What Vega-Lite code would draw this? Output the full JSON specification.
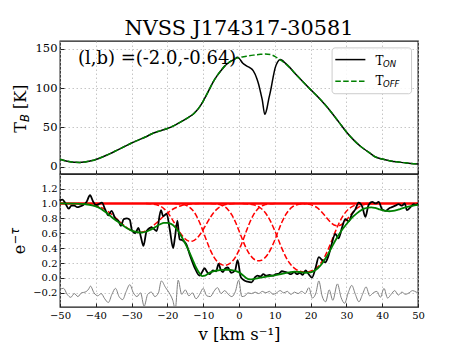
{
"$schema": "https://vega.github.io/schema/vega-lite/v6.json",
"background": "white",
"padding": {"left": 9, "top": 17, "right": 5, "bottom": 5},
"spacing": 0,
"bounds": "flush",
"config": {
  "font": "DejaVu Serif",
  "view": {"stroke": "#1a1a1a", "strokeWidth": 1.3},
  "axis": {"domain": false, "grid": true, "gridColor": "#b8b8b8", "gridDash": [1.5, 2.5], "gridWidth": 0.8, "tickColor": "#222222", "tickSize": -4, "tickCount": 30, "labelPadding": 7, "labelColor": "black", "labelFont": "DejaVu Serif", "labelOverlap": false, "labelFlush": false, "labelBound": false, "title": null}
},
"datasets": {
  "tb": [
    {"v":-50,"s":"off","T":9.3},{"v":-48,"s":"off","T":6.8},{"v":-46,"s":"off","T":5.4},{"v":-44.5,"s":"off","T":5.2},{"v":-43,"s":"off","T":5.9},{"v":-41,"s":"off","T":7.6},{"v":-40,"s":"off","T":9},{"v":-38,"s":"off","T":12.5},{"v":-36,"s":"off","T":16.5},{"v":-34,"s":"off","T":21},{"v":-32,"s":"off","T":25.5},{"v":-30,"s":"off","T":30},{"v":-28,"s":"off","T":34},{"v":-26,"s":"off","T":38},{"v":-24,"s":"off","T":42.5},{"v":-22,"s":"off","T":45.5},{"v":-20,"s":"off","T":48.5},{"v":-18,"s":"off","T":52.5},{"v":-16,"s":"off","T":57.5},{"v":-14,"s":"off","T":63},{"v":-13,"s":"off","T":66},{"v":-12,"s":"off","T":70.5},{"v":-11,"s":"off","T":76},{"v":-10,"s":"off","T":83.5},{"v":-9,"s":"off","T":92},{"v":-8,"s":"off","T":101},{"v":-7,"s":"off","T":109.5},{"v":-6,"s":"off","T":116.5},{"v":-5,"s":"off","T":122.5},{"v":-4,"s":"off","T":128},{"v":-3,"s":"off","T":132},{"v":-2,"s":"off","T":135},{"v":-1,"s":"off","T":137.5},{"v":0,"s":"off","T":139},{"v":2,"s":"off","T":140.5},{"v":4,"s":"off","T":142},{"v":6,"s":"off","T":143},{"v":7.3,"s":"off","T":143.5},{"v":9,"s":"off","T":142.5},{"v":10,"s":"off","T":140.5},{"v":11,"s":"off","T":137.5},{"v":12,"s":"off","T":134.5},{"v":13,"s":"off","T":131},{"v":14,"s":"off","T":127},{"v":16,"s":"off","T":117},{"v":18,"s":"off","T":107.5},{"v":20,"s":"off","T":98},{"v":22,"s":"off","T":89},{"v":24,"s":"off","T":79},{"v":26,"s":"off","T":68},{"v":28,"s":"off","T":56},{"v":30,"s":"off","T":44},{"v":32,"s":"off","T":34},{"v":34,"s":"off","T":25.5},{"v":36,"s":"off","T":19},{"v":38,"s":"off","T":12.5},{"v":40,"s":"off","T":9.5},{"v":42,"s":"off","T":7.5},{"v":44,"s":"off","T":6},{"v":46,"s":"off","T":5},{"v":48,"s":"off","T":4},{"v":50,"s":"off","T":3.3},
    {"v":-50,"s":"on","T":9.3},{"v":-48,"s":"on","T":6.8},{"v":-46,"s":"on","T":5.4},{"v":-44.5,"s":"on","T":5.2},{"v":-43,"s":"on","T":5.9},{"v":-41,"s":"on","T":7.6},{"v":-40,"s":"on","T":9},{"v":-38,"s":"on","T":12.5},{"v":-36,"s":"on","T":16.5},{"v":-34,"s":"on","T":21},{"v":-32,"s":"on","T":25.5},{"v":-30,"s":"on","T":30},{"v":-28,"s":"on","T":34},{"v":-26,"s":"on","T":38},{"v":-24,"s":"on","T":42.5},{"v":-22,"s":"on","T":45.5},{"v":-20,"s":"on","T":48.5},{"v":-18,"s":"on","T":52.5},{"v":-16,"s":"on","T":57.5},{"v":-14,"s":"on","T":63},{"v":-13,"s":"on","T":66},{"v":-12,"s":"on","T":70.5},{"v":-11,"s":"on","T":76},{"v":-10,"s":"on","T":83.5},{"v":-9,"s":"on","T":92},{"v":-8,"s":"on","T":101},{"v":-7,"s":"on","T":109.5},{"v":-6,"s":"on","T":116.5},{"v":-5,"s":"on","T":122.5},{"v":-4,"s":"on","T":128},{"v":-3,"s":"on","T":132},{"v":-2,"s":"on","T":135},{"v":-1,"s":"on","T":137.5},{"v":-0.5,"s":"on","T":139.3},{"v":0,"s":"on","T":138},{"v":1,"s":"on","T":132},{"v":2,"s":"on","T":128.5},{"v":3,"s":"on","T":126},{"v":4,"s":"on","T":122},{"v":5,"s":"on","T":112},{"v":5.5,"s":"on","T":104.6},{"v":6,"s":"on","T":95},{"v":6.5,"s":"on","T":85},{"v":7.2,"s":"on","T":66.5},{"v":7.8,"s":"on","T":74},{"v":8.3,"s":"on","T":86},{"v":8.8,"s":"on","T":96},{"v":9.5,"s":"on","T":113},{"v":10.1,"s":"on","T":125.8},{"v":10.8,"s":"on","T":133.5},{"v":11.5,"s":"on","T":136.3},{"v":12,"s":"on","T":135.5},{"v":13,"s":"on","T":131.5},{"v":14,"s":"on","T":127},{"v":16,"s":"on","T":117},{"v":18,"s":"on","T":107.5},{"v":20,"s":"on","T":98},{"v":22,"s":"on","T":89},{"v":24,"s":"on","T":79},{"v":26,"s":"on","T":68},{"v":28,"s":"on","T":56},{"v":30,"s":"on","T":44},{"v":32,"s":"on","T":34},{"v":34,"s":"on","T":25.5},{"v":36,"s":"on","T":19},{"v":38,"s":"on","T":12.5},{"v":40,"s":"on","T":9.5},{"v":42,"s":"on","T":7.5},{"v":44,"s":"on","T":6},{"v":46,"s":"on","T":5},{"v":48,"s":"on","T":4},{"v":50,"s":"on","T":3.3}
  ],
  "abs": [
    {"v":-50.1,"s":"obs","y":1.04},{"v":-49.3,"s":"obs","y":1.05},{"v":-48.5,"s":"obs","y":1.0},{"v":-47.6,"s":"obs","y":0.93},{"v":-46.8,"s":"obs","y":0.97},{"v":-46.0,"s":"obs","y":0.97},{"v":-45.2,"s":"obs","y":0.95},{"v":-44.4,"s":"obs","y":0.96},{"v":-43.5,"s":"obs","y":0.98},{"v":-42.6,"s":"obs","y":1.02},{"v":-41.6,"s":"obs","y":1.11},{"v":-40.8,"s":"obs","y":1.03},{"v":-40.0,"s":"obs","y":0.98},{"v":-39.2,"s":"obs","y":0.99},{"v":-38.3,"s":"obs","y":1.01},{"v":-37.4,"s":"obs","y":0.92},{"v":-36.5,"s":"obs","y":0.84},{"v":-35.6,"s":"obs","y":0.9},{"v":-34.6,"s":"obs","y":0.8},{"v":-33.6,"s":"obs","y":0.76},{"v":-33.0,"s":"obs","y":0.7},{"v":-32.2,"s":"obs","y":0.79},{"v":-31.3,"s":"obs","y":0.8},{"v":-30.5,"s":"obs","y":0.78},{"v":-29.9,"s":"obs","y":0.64},{"v":-29.0,"s":"obs","y":0.6},{"v":-28.1,"s":"obs","y":0.67},{"v":-27.4,"s":"obs","y":0.55},{"v":-26.7,"s":"obs","y":0.43},{"v":-25.8,"s":"obs","y":0.63},{"v":-24.4,"s":"obs","y":0.68},{"v":-23.0,"s":"obs","y":0.63},{"v":-21.8,"s":"obs","y":0.91},{"v":-21.2,"s":"obs","y":0.83},{"v":-20.2,"s":"obs","y":0.86},{"v":-19.3,"s":"obs","y":0.64},{"v":-18.4,"s":"obs","y":0.4},{"v":-17.9,"s":"obs","y":0.54},{"v":-17.2,"s":"obs","y":0.77},{"v":-16.6,"s":"obs","y":0.52},{"v":-15.6,"s":"obs","y":0.5},{"v":-14.7,"s":"obs","y":0.45},{"v":-13.8,"s":"obs","y":0.32},{"v":-12.4,"s":"obs","y":0.14},{"v":-11.0,"s":"obs","y":0.03},{"v":-10.3,"s":"obs","y":0.08},{"v":-9.6,"s":"obs","y":0.13},{"v":-8.9,"s":"obs","y":0.08},{"v":-8.2,"s":"obs","y":0.05},{"v":-7.3,"s":"obs","y":0.1},{"v":-6.4,"s":"obs","y":0.09},{"v":-5.7,"s":"obs","y":0.19},{"v":-5.1,"s":"obs","y":0.11},{"v":-4.5,"s":"obs","y":0.08},{"v":-3.8,"s":"obs","y":0.13},{"v":-3.1,"s":"obs","y":0.14},{"v":-2.2,"s":"obs","y":0.07},{"v":-1.1,"s":"obs","y":0.1},{"v":-0.4,"s":"obs","y":0.24},{"v":0.5,"s":"obs","y":0.01},{"v":1.4,"s":"obs","y":-0.03},{"v":2.4,"s":"obs","y":-0.05},{"v":3.5,"s":"obs","y":-0.06},{"v":4.5,"s":"obs","y":0.01},{"v":5.2,"s":"obs","y":0.03},{"v":6.0,"s":"obs","y":0.02},{"v":6.8,"s":"obs","y":0.05},{"v":7.6,"s":"obs","y":0.03},{"v":8.5,"s":"obs","y":0.04},{"v":9.4,"s":"obs","y":0.03},{"v":10.3,"s":"obs","y":0.05},{"v":11.2,"s":"obs","y":0.06},{"v":12.0,"s":"obs","y":0.09},{"v":12.8,"s":"obs","y":0.08},{"v":13.6,"s":"obs","y":0.07},{"v":14.5,"s":"obs","y":0.05},{"v":15.4,"s":"obs","y":0.08},{"v":16.2,"s":"obs","y":0.05},{"v":17.0,"s":"obs","y":0.07},{"v":17.8,"s":"obs","y":0.04},{"v":18.6,"s":"obs","y":0.1},{"v":19.3,"s":"obs","y":0.06},{"v":20.4,"s":"obs","y":0.005},{"v":21.3,"s":"obs","y":0.12},{"v":22.3,"s":"obs","y":0.28},{"v":23.2,"s":"obs","y":0.24},{"v":24.1,"s":"obs","y":0.21},{"v":25.0,"s":"obs","y":0.3},{"v":25.7,"s":"obs","y":0.42},{"v":26.9,"s":"obs","y":0.59},{"v":27.8,"s":"obs","y":0.53},{"v":28.8,"s":"obs","y":0.68},{"v":29.7,"s":"obs","y":0.79},{"v":30.6,"s":"obs","y":0.76},{"v":31.6,"s":"obs","y":0.86},{"v":32.5,"s":"obs","y":0.92},{"v":33.4,"s":"obs","y":1.01},{"v":34.4,"s":"obs","y":0.96},{"v":35.3,"s":"obs","y":0.82},{"v":36.2,"s":"obs","y":0.98},{"v":37.2,"s":"obs","y":1.02},{"v":38.2,"s":"obs","y":1.0},{"v":39.0,"s":"obs","y":1.02},{"v":40.0,"s":"obs","y":0.92},{"v":41.0,"s":"obs","y":0.9},{"v":41.8,"s":"obs","y":0.93},{"v":42.7,"s":"obs","y":0.95},{"v":43.7,"s":"obs","y":0.97},{"v":44.6,"s":"obs","y":0.99},{"v":45.5,"s":"obs","y":0.97},{"v":46.3,"s":"obs","y":1.0},{"v":46.9,"s":"obs","y":0.91},{"v":47.9,"s":"obs","y":0.95},{"v":48.8,"s":"obs","y":0.99},{"v":49.5,"s":"obs","y":0.98},{"v":50.0,"s":"obs","y":1.0},
    {"v":-50,"s":"fit","y":1.0},{"v":-46,"s":"fit","y":0.998},{"v":-43,"s":"fit","y":0.99},{"v":-41,"s":"fit","y":0.975},{"v":-40,"s":"fit","y":0.96},{"v":-39,"s":"fit","y":0.94},{"v":-38,"s":"fit","y":0.91},{"v":-37,"s":"fit","y":0.875},{"v":-36,"s":"fit","y":0.835},{"v":-35,"s":"fit","y":0.795},{"v":-34,"s":"fit","y":0.76},{"v":-33,"s":"fit","y":0.725},{"v":-32,"s":"fit","y":0.69},{"v":-31,"s":"fit","y":0.66},{"v":-30,"s":"fit","y":0.635},{"v":-29,"s":"fit","y":0.62},{"v":-28,"s":"fit","y":0.61},{"v":-27,"s":"fit","y":0.61},{"v":-26,"s":"fit","y":0.62},{"v":-25,"s":"fit","y":0.64},{"v":-24,"s":"fit","y":0.665},{"v":-23,"s":"fit","y":0.695},{"v":-22,"s":"fit","y":0.72},{"v":-21,"s":"fit","y":0.74},{"v":-20,"s":"fit","y":0.74},{"v":-19,"s":"fit","y":0.725},{"v":-18,"s":"fit","y":0.69},{"v":-17,"s":"fit","y":0.63},{"v":-16,"s":"fit","y":0.55},{"v":-15,"s":"fit","y":0.46},{"v":-14,"s":"fit","y":0.36},{"v":-13,"s":"fit","y":0.25},{"v":-12,"s":"fit","y":0.14},{"v":-11,"s":"fit","y":0.06},{"v":-10.3,"s":"fit","y":0.025},{"v":-9.5,"s":"fit","y":0.03},{"v":-9,"s":"fit","y":0.045},{"v":-8,"s":"fit","y":0.075},{"v":-7,"s":"fit","y":0.09},{"v":-6,"s":"fit","y":0.1},{"v":-5,"s":"fit","y":0.105},{"v":-4,"s":"fit","y":0.11},{"v":-3,"s":"fit","y":0.11},{"v":-2,"s":"fit","y":0.105},{"v":-1,"s":"fit","y":0.095},{"v":0,"s":"fit","y":0.075},{"v":1,"s":"fit","y":0.04},{"v":2,"s":"fit","y":0.0},{"v":3,"s":"fit","y":-0.02},{"v":4,"s":"fit","y":-0.015},{"v":5,"s":"fit","y":-0.005},{"v":6,"s":"fit","y":0.005},{"v":8,"s":"fit","y":0.02},{"v":10,"s":"fit","y":0.035},{"v":12,"s":"fit","y":0.055},{"v":14,"s":"fit","y":0.075},{"v":15.5,"s":"fit","y":0.085},{"v":17,"s":"fit","y":0.08},{"v":18.5,"s":"fit","y":0.07},{"v":20,"s":"fit","y":0.075},{"v":21,"s":"fit","y":0.095},{"v":22,"s":"fit","y":0.13},{"v":23,"s":"fit","y":0.18},{"v":24,"s":"fit","y":0.25},{"v":25,"s":"fit","y":0.33},{"v":26,"s":"fit","y":0.42},{"v":27,"s":"fit","y":0.51},{"v":28,"s":"fit","y":0.59},{"v":29,"s":"fit","y":0.66},{"v":30,"s":"fit","y":0.72},{"v":31,"s":"fit","y":0.78},{"v":32,"s":"fit","y":0.83},{"v":33,"s":"fit","y":0.87},{"v":34,"s":"fit","y":0.905},{"v":35,"s":"fit","y":0.93},{"v":36,"s":"fit","y":0.945},{"v":37,"s":"fit","y":0.948},{"v":38,"s":"fit","y":0.94},{"v":39,"s":"fit","y":0.925},{"v":40,"s":"fit","y":0.91},{"v":41,"s":"fit","y":0.9},{"v":42,"s":"fit","y":0.895},{"v":43,"s":"fit","y":0.9},{"v":44,"s":"fit","y":0.91},{"v":45,"s":"fit","y":0.925},{"v":46,"s":"fit","y":0.94},{"v":47,"s":"fit","y":0.955},{"v":48,"s":"fit","y":0.965},{"v":49,"s":"fit","y":0.975},{"v":50,"s":"fit","y":0.98},
    {"v":-50,"s":"res","y":-0.15},{"v":-49,"s":"res","y":-0.14},{"v":-48,"s":"res","y":-0.22},{"v":-47,"s":"res","y":-0.26},{"v":-46,"s":"res","y":-0.21},{"v":-45,"s":"res","y":-0.25},{"v":-44,"s":"res","y":-0.2},{"v":-43,"s":"res","y":-0.19},{"v":-42,"s":"res","y":-0.15},{"v":-41.5,"s":"res","y":-0.11},{"v":-40.5,"s":"res","y":-0.2},{"v":-39.5,"s":"res","y":-0.24},{"v":-38.5,"s":"res","y":-0.21},{"v":-37.5,"s":"res","y":-0.28},{"v":-36.5,"s":"res","y":-0.33},{"v":-35.5,"s":"res","y":-0.22},{"v":-34.5,"s":"res","y":-0.14},{"v":-33.5,"s":"res","y":-0.25},{"v":-32.5,"s":"res","y":-0.29},{"v":-31.5,"s":"res","y":-0.18},{"v":-30.5,"s":"res","y":-0.09},{"v":-29.5,"s":"res","y":-0.2},{"v":-28.5,"s":"res","y":-0.25},{"v":-27.5,"s":"res","y":-0.2},{"v":-26.5,"s":"res","y":-0.38},{"v":-25.5,"s":"res","y":-0.22},{"v":-24.5,"s":"res","y":-0.19},{"v":-23.5,"s":"res","y":-0.25},{"v":-22.5,"s":"res","y":-0.2},{"v":-21.7,"s":"res","y":-0.04},{"v":-20.5,"s":"res","y":-0.13},{"v":-19.5,"s":"res","y":-0.2},{"v":-18.5,"s":"res","y":-0.3},{"v":-17.8,"s":"res","y":-0.42},{"v":-17,"s":"res","y":-0.03},{"v":-16,"s":"res","y":-0.22},{"v":-15,"s":"res","y":-0.16},{"v":-14,"s":"res","y":-0.24},{"v":-13,"s":"res","y":-0.2},{"v":-12,"s":"res","y":-0.28},{"v":-11,"s":"res","y":-0.22},{"v":-10,"s":"res","y":-0.14},{"v":-9,"s":"res","y":-0.24},{"v":-8,"s":"res","y":-0.25},{"v":-7,"s":"res","y":-0.18},{"v":-6,"s":"res","y":-0.13},{"v":-5,"s":"res","y":-0.21},{"v":-4,"s":"res","y":-0.17},{"v":-3,"s":"res","y":-0.22},{"v":-2,"s":"res","y":-0.25},{"v":-1,"s":"res","y":-0.18},{"v":-0.1,"s":"res","y":-0.03},{"v":0.8,"s":"res","y":-0.25},{"v":1.7,"s":"res","y":-0.24},{"v":2.5,"s":"res","y":-0.2},{"v":3.5,"s":"res","y":-0.21},{"v":4.5,"s":"res","y":-0.19},{"v":5.5,"s":"res","y":-0.21},{"v":6.5,"s":"res","y":-0.18},{"v":7.5,"s":"res","y":-0.2},{"v":8.5,"s":"res","y":-0.18},{"v":9.5,"s":"res","y":-0.22},{"v":10.5,"s":"res","y":-0.2},{"v":11.5,"s":"res","y":-0.17},{"v":12.5,"s":"res","y":-0.2},{"v":13.5,"s":"res","y":-0.18},{"v":14.5,"s":"res","y":-0.22},{"v":15.5,"s":"res","y":-0.19},{"v":16.5,"s":"res","y":-0.21},{"v":17.5,"s":"res","y":-0.18},{"v":18.5,"s":"res","y":-0.21},{"v":19.5,"s":"res","y":-0.13},{"v":20.5,"s":"res","y":-0.27},{"v":21.5,"s":"res","y":-0.2},{"v":22.3,"s":"res","y":-0.04},{"v":23.2,"s":"res","y":-0.24},{"v":24.2,"s":"res","y":-0.32},{"v":25.2,"s":"res","y":-0.16},{"v":26.2,"s":"res","y":-0.3},{"v":27.5,"s":"res","y":-0.08},{"v":28.5,"s":"res","y":-0.26},{"v":29.5,"s":"res","y":-0.34},{"v":30.5,"s":"res","y":-0.2},{"v":31.5,"s":"res","y":-0.1},{"v":32.5,"s":"res","y":-0.22},{"v":33.5,"s":"res","y":-0.32},{"v":34.5,"s":"res","y":-0.22},{"v":35.5,"s":"res","y":-0.12},{"v":36.5,"s":"res","y":-0.24},{"v":37.5,"s":"res","y":-0.2},{"v":38.5,"s":"res","y":-0.18},{"v":39.5,"s":"res","y":-0.26},{"v":40.5,"s":"res","y":-0.14},{"v":41.5,"s":"res","y":-0.27},{"v":42.5,"s":"res","y":-0.22},{"v":43.5,"s":"res","y":-0.17},{"v":44.5,"s":"res","y":-0.23},{"v":45.5,"s":"res","y":-0.19},{"v":46.5,"s":"res","y":-0.22},{"v":47.5,"s":"res","y":-0.2},{"v":48.5,"s":"res","y":-0.17},{"v":49.5,"s":"res","y":-0.19},{"v":50,"s":"res","y":-0.2}
  ],
  "comp": [
    {"v":-45,"c":"a","y":1.0},{"v":-43,"c":"a","y":0.995},{"v":-42,"c":"a","y":0.99},{"v":-41,"c":"a","y":0.983},{"v":-40,"c":"a","y":0.973},{"v":-39,"c":"a","y":0.957},{"v":-38,"c":"a","y":0.935},{"v":-37,"c":"a","y":0.907},{"v":-36,"c":"a","y":0.872},{"v":-35,"c":"a","y":0.831},{"v":-34,"c":"a","y":0.786},{"v":-33,"c":"a","y":0.741},{"v":-32,"c":"a","y":0.699},{"v":-31,"c":"a","y":0.662},{"v":-30,"c":"a","y":0.634},{"v":-29,"c":"a","y":0.616},{"v":-28,"c":"a","y":0.61},{"v":-27,"c":"a","y":0.616},{"v":-26,"c":"a","y":0.634},{"v":-25,"c":"a","y":0.662},{"v":-24,"c":"a","y":0.699},{"v":-23,"c":"a","y":0.741},{"v":-22,"c":"a","y":0.786},{"v":-21,"c":"a","y":0.831},{"v":-20,"c":"a","y":0.872},{"v":-19,"c":"a","y":0.907},{"v":-18,"c":"a","y":0.935},{"v":-17,"c":"a","y":0.957},{"v":-16,"c":"a","y":0.973},{"v":-15,"c":"a","y":0.983},{"v":-14,"c":"a","y":0.99},{"v":-13,"c":"a","y":0.995},{"v":-11,"c":"a","y":1.0},
    {"v":-26,"c":"b","y":1.0},{"v":-25,"c":"b","y":0.997},{"v":-24,"c":"b","y":0.992},{"v":-23,"c":"b","y":0.982},{"v":-22,"c":"b","y":0.963},{"v":-21,"c":"b","y":0.931},{"v":-20,"c":"b","y":0.881},{"v":-19,"c":"b","y":0.813},{"v":-18,"c":"b","y":0.732},{"v":-17,"c":"b","y":0.649},{"v":-16,"c":"b","y":0.576},{"v":-15,"c":"b","y":0.522},{"v":-14,"c":"b","y":0.494},{"v":-13.5,"c":"b","y":0.49},{"v":-13,"c":"b","y":0.494},{"v":-12,"c":"b","y":0.522},{"v":-11,"c":"b","y":0.576},{"v":-10,"c":"b","y":0.649},{"v":-9,"c":"b","y":0.732},{"v":-8,"c":"b","y":0.813},{"v":-7,"c":"b","y":0.881},{"v":-6,"c":"b","y":0.931},{"v":-5,"c":"b","y":0.963},{"v":-4,"c":"b","y":0.982},{"v":-3,"c":"b","y":0.992},{"v":-2,"c":"b","y":0.997},{"v":-1,"c":"b","y":1.0},
    {"v":-18,"c":"c","y":1.0},{"v":-17,"c":"c","y":0.996},{"v":-16,"c":"c","y":0.991},{"v":-15,"c":"c","y":0.979},{"v":-14,"c":"c","y":0.955},{"v":-13,"c":"c","y":0.912},{"v":-12,"c":"c","y":0.843},{"v":-11,"c":"c","y":0.744},{"v":-10,"c":"c","y":0.622},{"v":-9,"c":"c","y":0.492},{"v":-8,"c":"c","y":0.373},{"v":-7,"c":"c","y":0.28},{"v":-6,"c":"c","y":0.217},{"v":-5,"c":"c","y":0.182},{"v":-4,"c":"c","y":0.17},{"v":-3,"c":"c","y":0.182},{"v":-2,"c":"c","y":0.217},{"v":-1,"c":"c","y":0.28},{"v":0,"c":"c","y":0.373},{"v":1,"c":"c","y":0.492},{"v":2,"c":"c","y":0.622},{"v":3,"c":"c","y":0.744},{"v":4,"c":"c","y":0.843},{"v":5,"c":"c","y":0.912},{"v":6,"c":"c","y":0.955},{"v":7,"c":"c","y":0.979},{"v":8,"c":"c","y":0.991},{"v":9,"c":"c","y":0.996},{"v":10,"c":"c","y":1.0},
    {"v":-8,"c":"d","y":1.0},{"v":-7,"c":"d","y":0.996},{"v":-6,"c":"d","y":0.991},{"v":-5,"c":"d","y":0.979},{"v":-4,"c":"d","y":0.956},{"v":-3,"c":"d","y":0.913},{"v":-2,"c":"d","y":0.845},{"v":-1,"c":"d","y":0.75},{"v":0,"c":"d","y":0.633},{"v":1,"c":"d","y":0.51},{"v":2,"c":"d","y":0.4},{"v":3,"c":"d","y":0.315},{"v":4,"c":"d","y":0.26},{"v":5,"c":"d","y":0.233},{"v":5.5,"c":"d","y":0.23},{"v":6,"c":"d","y":0.233},{"v":7,"c":"d","y":0.26},{"v":8,"c":"d","y":0.315},{"v":9,"c":"d","y":0.4},{"v":10,"c":"d","y":0.51},{"v":11,"c":"d","y":0.633},{"v":12,"c":"d","y":0.75},{"v":13,"c":"d","y":0.845},{"v":14,"c":"d","y":0.913},{"v":15,"c":"d","y":0.956},{"v":16,"c":"d","y":0.979},{"v":17,"c":"d","y":0.991},{"v":18,"c":"d","y":0.996},{"v":19,"c":"d","y":1.0},
    {"v":1,"c":"e","y":1.0},{"v":2,"c":"e","y":0.996},{"v":3,"c":"e","y":0.991},{"v":4,"c":"e","y":0.983},{"v":5,"c":"e","y":0.967},{"v":6,"c":"e","y":0.939},{"v":7,"c":"e","y":0.895},{"v":8,"c":"e","y":0.829},{"v":9,"c":"e","y":0.741},{"v":10,"c":"e","y":0.632},{"v":11,"c":"e","y":0.512},{"v":12,"c":"e","y":0.394},{"v":13,"c":"e","y":0.29},{"v":14,"c":"e","y":0.208},{"v":15,"c":"e","y":0.15},{"v":16,"c":"e","y":0.113},{"v":17,"c":"e","y":0.091},{"v":18,"c":"e","y":0.081},{"v":19,"c":"e","y":0.081},{"v":20,"c":"e","y":0.091},{"v":21,"c":"e","y":0.113},{"v":22,"c":"e","y":0.15},{"v":23,"c":"e","y":0.208},{"v":24,"c":"e","y":0.29},{"v":25,"c":"e","y":0.394},{"v":26,"c":"e","y":0.512},{"v":27,"c":"e","y":0.632},{"v":28,"c":"e","y":0.741},{"v":29,"c":"e","y":0.829},{"v":30,"c":"e","y":0.895},{"v":31,"c":"e","y":0.939},{"v":32,"c":"e","y":0.967},{"v":33,"c":"e","y":0.983},{"v":34,"c":"e","y":0.991},{"v":35,"c":"e","y":0.996},{"v":36,"c":"e","y":1.0},
    {"v":17,"c":"f","y":1.0},{"v":18,"c":"f","y":0.998},{"v":19,"c":"f","y":0.994},{"v":20,"c":"f","y":0.984},{"v":21,"c":"f","y":0.966},{"v":22,"c":"f","y":0.936},{"v":23,"c":"f","y":0.89},{"v":24,"c":"f","y":0.835},{"v":25,"c":"f","y":0.777},{"v":26,"c":"f","y":0.73},{"v":27,"c":"f","y":0.703},{"v":27.5,"c":"f","y":0.7},{"v":28,"c":"f","y":0.703},{"v":29,"c":"f","y":0.73},{"v":30,"c":"f","y":0.777},{"v":31,"c":"f","y":0.835},{"v":32,"c":"f","y":0.89},{"v":33,"c":"f","y":0.936},{"v":34,"c":"f","y":0.966},{"v":35,"c":"f","y":0.984},{"v":36,"c":"f","y":0.994},{"v":37,"c":"f","y":0.998},{"v":38,"c":"f","y":1.0}
  ]
},
"vconcat": [
  {
    "width": 358, "height": 133,
    "title": {"text": "NVSS J174317-30581", "font": "DejaVu Serif", "fontSize": 20.8, "fontWeight": "normal", "color": "black", "anchor": "middle", "baseline": "alphabetic", "offset": -14.6},
    "layer": [
      {"data": {"name": "tb"}, "transform": [{"filter": "datum.s == 'on'"}],
       "mark": {"type": "line", "color": "black", "strokeWidth": 1.5, "interpolate": "monotone"},
       "encoding": {
         "x": {"field": "v", "type": "quantitative", "scale": {"domain": [-50, 50], "nice": false, "zero": false}, "axis": {"values": [-50,-40,-30,-20,-10,0,10,20,30,40,50], "tickCount": 30, "labels": false, "labelOverlap": false}},
         "y": {"field": "T", "type": "quantitative", "scale": {"domain": [-9.5, 160], "nice": false, "zero": false}, "axis": {"values": [0,50,100,150], "tickCount": 30, "labelFontSize": 11.5, "labelOverlap": false}}
       }},
      {"data": {"name": "tb"}, "transform": [{"filter": "datum.s == 'off'"}],
       "mark": {"type": "line", "color": "#008000", "strokeWidth": 1.5, "strokeDash": [5.5, 2.4], "interpolate": "monotone"},
       "encoding": {"x": {"field": "v", "type": "quantitative"}, "y": {"field": "T", "type": "quantitative"}}},
      {"data": {"values": [{}]},
       "mark": {"type": "rect", "fill": "white", "fillOpacity": 0.85, "stroke": "#cccccc", "strokeWidth": 1, "cornerRadius": 3},
       "encoding": {"x": {"datum": 26.0}, "x2": {"datum": 48.2}, "y": {"datum": 151.2}, "y2": {"datum": 92.8}}},
      {"data": {"values": [{}]},
       "mark": {"type": "rule", "color": "black", "strokeWidth": 1.5},
       "encoding": {"x": {"datum": 26.9}, "x2": {"datum": 35.3}, "y": {"datum": 136.3}}},
      {"data": {"values": [{}]},
       "mark": {"type": "rule", "color": "#008000", "strokeWidth": 1.5, "strokeDash": [5.5, 2.4]},
       "encoding": {"x": {"datum": 26.9}, "x2": {"datum": 35.3}, "y": {"datum": 108.8}}},
      {"data": {"values": [{}]},
       "mark": {"type": "text", "text": "T", "font": "DejaVu Serif", "fontSize": 12, "align": "left", "baseline": "alphabetic", "color": "black"},
       "encoding": {"x": {"datum": 38.1}, "y": {"datum": 130}}},
      {"data": {"values": [{}]},
       "mark": {"type": "text", "text": "ON", "font": "DejaVu Sans", "fontStyle": "italic", "fontSize": 8.5, "align": "left", "baseline": "alphabetic", "dx": 7.6, "dy": 2, "color": "black"},
       "encoding": {"x": {"datum": 38.1}, "y": {"datum": 130}}},
      {"data": {"values": [{}]},
       "mark": {"type": "text", "text": "T", "font": "DejaVu Serif", "fontSize": 12, "align": "left", "baseline": "alphabetic", "color": "black"},
       "encoding": {"x": {"datum": 38.1}, "y": {"datum": 103.3}}},
      {"data": {"values": [{}]},
       "mark": {"type": "text", "text": "OFF", "font": "DejaVu Sans", "fontStyle": "italic", "fontSize": 8.5, "align": "left", "baseline": "alphabetic", "dx": 7.6, "dy": 2, "color": "black"},
       "encoding": {"x": {"datum": 38.1}, "y": {"datum": 103.3}}},
      {"data": {"values": [{}]},
       "mark": {"type": "text", "text": "(l,b) =(-2.0,-0.64)", "font": "DejaVu Serif", "fontSize": 18, "align": "left", "baseline": "alphabetic", "color": "black"},
       "encoding": {"x": {"datum": -45.0}, "y": {"datum": 131.3}}},
      {"data": {"values": [{}]},
       "mark": {"type": "text", "text": "T", "font": "DejaVu Serif", "fontSize": 16, "angle": 270, "align": "left", "baseline": "alphabetic", "color": "black"},
       "encoding": {"x": {"datum": -59.5}, "y": {"datum": 43.2}}},
      {"data": {"values": [{}]},
       "mark": {"type": "text", "text": "B", "font": "DejaVu Sans", "fontStyle": "italic", "fontSize": 11.5, "angle": 270, "align": "left", "baseline": "alphabetic", "dx": 10.7, "dy": 3, "color": "black"},
       "encoding": {"x": {"datum": -59.5}, "y": {"datum": 43.2}}},
      {"data": {"values": [{}]},
       "mark": {"type": "text", "text": "[K]", "font": "DejaVu Serif", "fontSize": 16, "angle": 270, "align": "left", "baseline": "alphabetic", "dx": 23.6, "color": "black"},
       "encoding": {"x": {"datum": -59.5}, "y": {"datum": 43.2}}}
    ]
  },
  {
    "width": 358, "height": 133,
    "layer": [
      {"data": {"name": "abs"}, "transform": [{"filter": "datum.s == 'res'"}],
       "mark": {"type": "line", "color": "#808080", "strokeWidth": 1, "interpolate": "monotone", "clip": true},
       "encoding": {
         "x": {"field": "v", "type": "quantitative", "scale": {"domain": [-50, 50], "nice": false, "zero": false}, "axis": {"values": [-50,-40,-30,-20,-10,0,10,20,30,40,50], "tickCount": 30, "labelOverlap": false, "labelFontSize": 10, "title": "v [km s⁻¹]", "titleFont": "DejaVu Serif", "titleFontSize": 16.5, "titleFontWeight": "normal", "titleColor": "black", "titlePadding": 6}},
         "y": {"field": "y", "type": "quantitative", "scale": {"domain": [-0.39, 1.395], "nice": false, "zero": false}, "axis": {"values": [-0.2,0,0.2,0.4,0.6,0.8,1.0,1.2], "tickCount": 30, "labelOverlap": false, "format": ".1f", "labelFontSize": 10}}
       }},
      {"data": {"name": "comp"},
       "mark": {"type": "line", "color": "#ff0000", "strokeWidth": 1.5, "strokeDash": [5.5, 2.4], "interpolate": "monotone"},
       "encoding": {"x": {"field": "v", "type": "quantitative"}, "y": {"field": "y", "type": "quantitative"}, "detail": {"field": "c", "type": "nominal"}}},
      {"data": {"values": [{}]},
       "mark": {"type": "rule", "color": "#ff0000", "strokeWidth": 2.5},
       "encoding": {"y": {"datum": 1}}},
      {"data": {"name": "abs"}, "transform": [{"filter": "datum.s == 'obs'"}],
       "mark": {"type": "line", "color": "black", "strokeWidth": 1.8, "interpolate": "monotone"},
       "encoding": {"x": {"field": "v", "type": "quantitative"}, "y": {"field": "y", "type": "quantitative"}}},
      {"data": {"name": "abs"}, "transform": [{"filter": "datum.s == 'fit'"}],
       "mark": {"type": "line", "color": "#008000", "strokeWidth": 1.8, "interpolate": "monotone"},
       "encoding": {"x": {"field": "v", "type": "quantitative"}, "y": {"field": "y", "type": "quantitative"}}},
      {"data": {"values": [{}]},
       "mark": {"type": "text", "text": "e", "font": "DejaVu Serif", "fontSize": 16, "angle": 270, "align": "left", "baseline": "alphabetic", "color": "black"},
       "encoding": {"x": {"datum": -59.8}, "y": {"datum": 0.319}}},
      {"data": {"values": [{}]},
       "mark": {"type": "text", "text": "−τ", "font": "DejaVu Sans", "fontStyle": "italic", "fontSize": 11.5, "angle": 270, "align": "left", "baseline": "alphabetic", "dx": 9.8, "dy": -6, "color": "black"},
       "encoding": {"x": {"datum": -59.8}, "y": {"datum": 0.319}}}
    ]
  }
]
}
